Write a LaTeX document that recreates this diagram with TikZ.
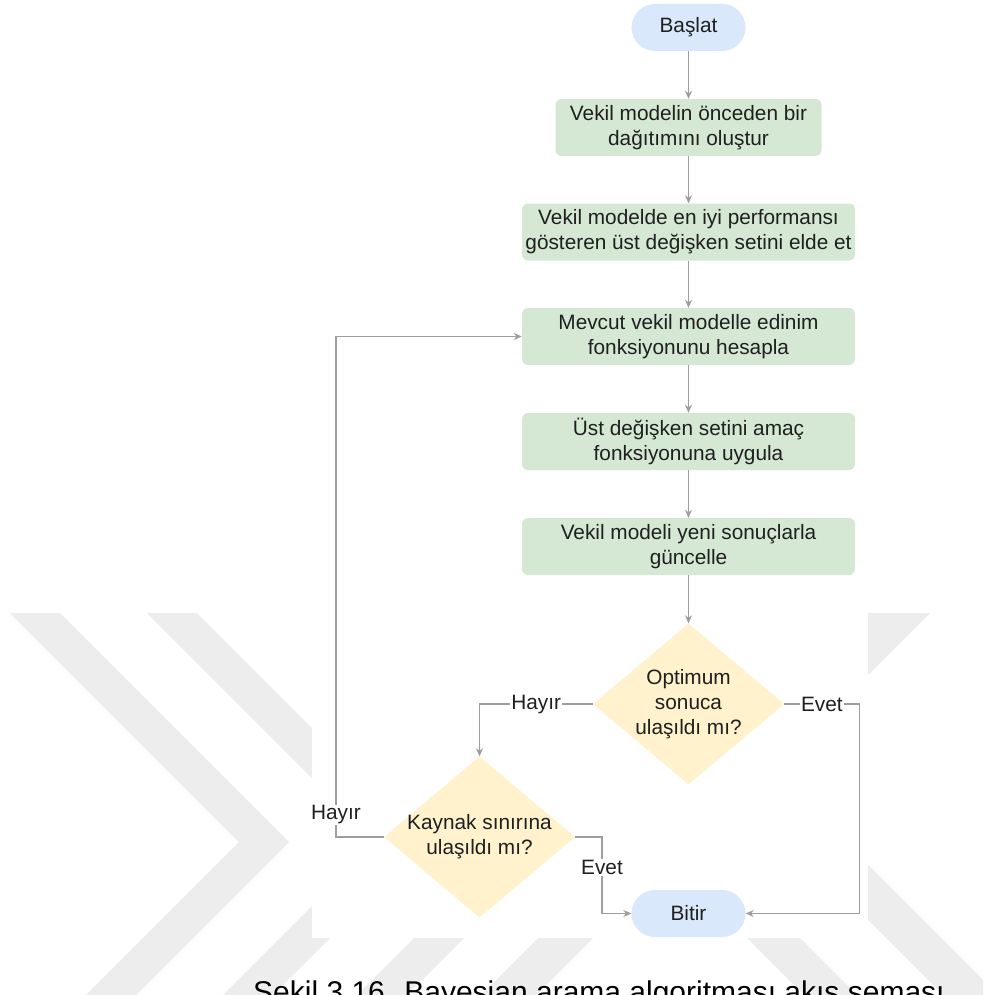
\documentclass[tikz,border=0pt]{standalone}
\usepackage{fontspec}
\setmainfont{Liberation Sans}
\usetikzlibrary{arrows.meta,shapes.geometric}
\definecolor{wm}{HTML}{EDEDED}
\definecolor{boxgreen}{HTML}{D5E8D4}
\definecolor{pillblue}{HTML}{DAE8FC}
\definecolor{decyellow}{HTML}{FFF2CC}
\definecolor{linegray}{HTML}{9E9E9E}
\definecolor{ink}{HTML}{1F1F1F}

\begin{document}
\begin{tikzpicture}[x=1pt,y=-1pt,
  every node/.style={font=\fontsize{20.8}{24.8}\selectfont, text=ink},
  terminal/.style={fill=pillblue, rounded corners=23.5pt, minimum width=114pt,
    minimum height=47pt, inner sep=0pt},
  stepbox/.style={fill=boxgreen, rounded corners=6pt, minimum width=333pt,
    minimum height=57pt, inner sep=0pt, align=center},
  decision/.style={diamond, fill=decyellow, minimum width=191pt,
    minimum height=161pt, inner sep=0pt},
  flow/.style={draw=linegray, line width=1.1pt,
    -{Stealth[length=8pt,width=7pt,inset=2.5pt]}},
  edgelabel/.style={fill=white, inner sep=1pt},
]
\useasboundingbox (0,0) rectangle (983,995);
\fill[white] (0,0) rectangle (983,995);

% page watermark behind the figure
\begin{scope}
  \clip (0,0) rectangle (983,995);
  \fill[wm] (10,613) -- (60,613) -- (289,842) -- (121,1010) -- (71,1010) -- (239,842) -- cycle;
  \fill[wm] (147,613) -- (197,613) -- (426,842) -- (258,1010) -- (208,1010) -- (376,842) -- cycle;
  \fill[wm] (857,613) -- (930,613) -- (773,770) -- (1010,1007) -- (1010,1062) -- (709,761) -- cycle;
  \fill[wm] (472,880) -- (522,880) -- (392,1010) -- (342,1010) -- cycle;
  \fill[wm] (596,880) -- (651,880) -- (521,1010) -- (466,1010) -- cycle;
  \fill[wm] (689,880) -- (742,880) -- (872,1010) -- (819,1010) -- cycle;
\end{scope}

% white sheet of the flowchart
\fill[white] (312,590) rectangle (868,938);

% flowchart nodes
\node[terminal] (start) at (688.5,27.5) {Başlat};
\node[stepbox, minimum width=266pt] (s1) at (688.5,127.5) {Vekil modelin önceden bir\\dağıtımını oluştur};
\node[stepbox] (s2) at (688.5,232) {Vekil modelde en iyi performansı\\gösteren üst değişken setini elde et};
\node[stepbox] (s3) at (688.5,336.5) {Mevcut vekil modelle edinim\\fonksiyonunu hesapla};
\node[stepbox] (s4) at (688.5,441.5) {Üst değişken setini amaç\\fonksiyonuna uygula};
\node[stepbox] (s5) at (688.5,546.5) {Vekil modeli yeni sonuçlarla\\güncelle};
\node[decision] (d1) at (688.5,704) {};
\node[align=center] (d1text) at (d1.center) {Optimum\\sonuca\\ulaşıldı mı?};
\node[decision] (d2) at (479.5,837) {};
\node[align=center] (d2text) at (d2.center) {Kaynak sınırına\\ulaşıldı mı?};
\node[terminal] (end) at (688.5,913.5) {Bitir};

% bend points
\coordinate (rr) at (859.5,704);
\coordinate (lr) at (602,837);
\coordinate (ll) at (336,837);

% connectors
\draw[flow] (start) -- (s1);
\draw[flow] (s1) -- (s2);
\draw[flow] (s2) -- (s3);
\draw[flow] (s3) -- (s4);
\draw[flow] (s4) -- (s5);
\draw[flow] (s5) -- (d1);
\draw[flow] (d1.west) -| node[edgelabel, pos=0.25] {Hayır} (d2.north);
\draw[flow] (d1.east) -- node[edgelabel, pos=0.5] {Evet} (rr) |- (end.east);
\draw[flow] (d2.east) -- (lr) |- node[edgelabel, pos=0.2] {Evet} (end.west);
\draw[flow] (d2.west) -- (ll) |- node[edgelabel, pos=0.022] {Hayır} (s3.west);

% caption
\begin{scope}
  \clip (0,0) rectangle (983,995);
  \node[anchor=base west, inner sep=0pt, text=black, font=\fontsize{30}{35}\selectfont]
    (caption) at (253,1002.5) {Şekil 3.16. Bayesian arama algoritması akış şeması};
\end{scope}
\end{tikzpicture}
\end{document}
